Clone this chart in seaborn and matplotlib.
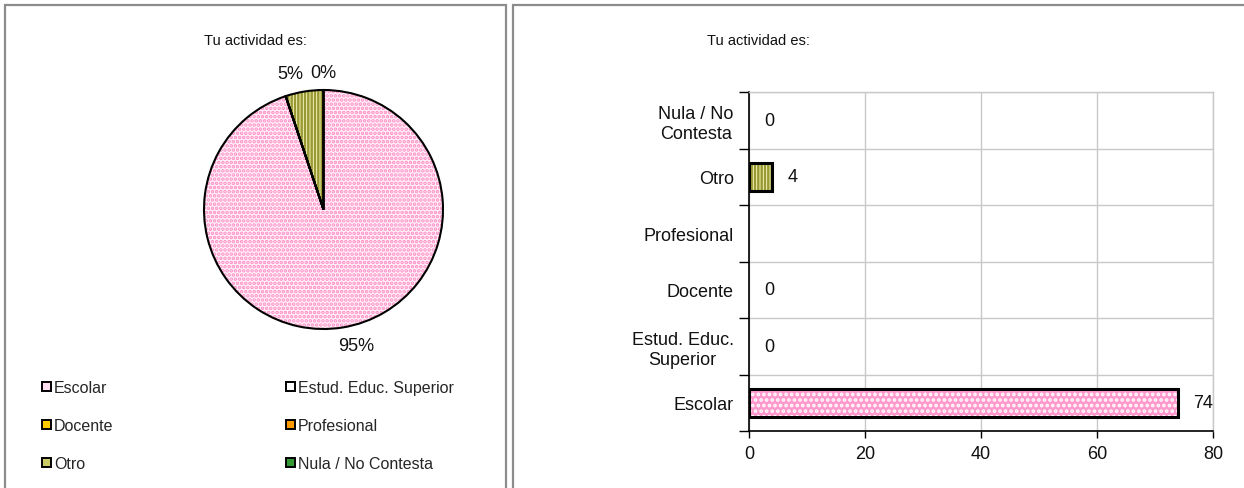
import numpy as np
import pandas as pd
import matplotlib
matplotlib.use("Agg")
import matplotlib.pyplot as plt
from matplotlib.patches import Patch, Rectangle
from matplotlib.ticker import FixedLocator
from matplotlib import font_manager
import seaborn as sns

# --- data -------------------------------------------------------------
categories = ["Escolar", "Estud. Educ. Superior", "Docente", "Profesional", "Otro", "Nula / No Contesta"]
axis_labels = ["Escolar", "Estud. Educ.\nSuperior", "Docente", "Profesional", "Otro", "Nula / No\nContesta"]
counts = [74, 0, 0, np.nan, 4, 0]          # Profesional has no answer recorded
chart_title = "Tu actividad es:"
x_ticks = [0, 20, 40, 60, 80]

# --- styles -----------------------------------------------------------
face = ["#ff99cc", "#ffffff", "#ffcc00", "#ff9900", "#ffffcc", "#339933"]
hatch_col = ["#ffffff", "#99ccff", "#ffff99", "#ffcc99", "#999933", "#ffffff"]
hatches = ["...", "..", "..", "..", "|||||", "++"]
pie_face = ["#fff2f9", "#ffffff", "#ffcc00", "#ff9900", "#ffffcc", "#339933"]
pie_hatch_col = ["#ff8cc6", "#99ccff", "#ffff99", "#ffcc99", "#999933", "#ffffff"]
pie_hatch = ["....", "..", "..", "..", "|||||", "++"]
legend_face = ["#ffe0f0", "#ffffff", "#ffcc00", "#ff9900", "#cccc66", "#339933"]

sns.set_theme(style="white")
plt.rcParams["font.family"] = ["Liberation Sans", "DejaVu Sans"]
plt.rcParams["hatch.linewidth"] = 1.8
FS = 13
FS_LEG = 11.5
TXT = "#111111"

installed = {f.name for f in font_manager.fontManager.ttflist}
title_family = ["Liberation Sans Narrow"] if "Liberation Sans Narrow" in installed else ["Liberation Sans"]
title_size = 12 if title_family[0].endswith("Narrow") else 10.5

W, H = 1244, 489
fig = plt.figure(figsize=(W / 100, H / 100), dpi=100)
fig.patch.set_facecolor("white")


def px_axes(left, top, width, height):
    return fig.add_axes([left / W, (H - top - height) / H, width / W, height / H])


# panel frames
for x0, x1 in [(5, 506), (513, 1262)]:
    fig.add_artist(Rectangle((x0 / W, -0.05), (x1 - x0) / W, (H - 6) / H + 0.05,
                             transform=fig.transFigure, fill=False,
                             edgecolor="#8c8c8c", linewidth=1.6, clip_on=False))

# --- pie --------------------------------------------------------------
vals = np.nan_to_num(np.array(counts, dtype=float))
total = vals.sum()
axp = px_axes(204, 91, 239, 239)
w_fill, _ = axp.pie(vals, startangle=90, counterclock=False, colors=pie_face,
                    wedgeprops=dict(linewidth=0))
for w, hc, h in zip(w_fill, pie_hatch_col, pie_hatch):
    w.set_edgecolor(hc)
    w.set_hatch(h)
axp.pie(vals, startangle=90, counterclock=False,
        wedgeprops=dict(fill=False, edgecolor="black", linewidth=1.5))
axp.set_xlim(-1, 1)
axp.set_ylim(-1, 1)
axp.axis("off")

# percentage labels outside the slices, nudged away from the vertical axis
cum = np.cumsum(vals) - vals / 2
for i, (v, c) in enumerate(zip(vals, cum)):
    if v == 0 and i != len(vals) - 1:
        continue
    ang = np.deg2rad(90 - 360 * c / total)
    r = 1.15
    cx, cy = np.cos(ang), np.sin(ang)
    nudge = 0 if abs(cx) < 0.05 else 8 * np.sign(cx)
    axp.annotate(f"{100 * v / total:.0f}%", xy=(r * cx, r * cy), xytext=(nudge, 0),
                 textcoords="offset points", ha="center", va="center",
                 fontsize=FS, color=TXT, annotation_clip=False)

fig.text(255 / W, 1 - 41 / H, chart_title, ha="center", va="center",
         fontsize=title_size, family=title_family, color=TXT)

# legend (two columns, row-major order)
handles = [Patch(facecolor=legend_face[i], edgecolor="black", linewidth=1.4, label=categories[i])
           for i in range(len(categories))]
kw = dict(frameon=False, fontsize=FS_LEG, handlelength=0.55, handleheight=0.55,
          handletextpad=0.2, labelspacing=1.45, borderpad=0, borderaxespad=0)
fig.legend(handles=handles[0::2], loc="upper left",
           bbox_to_anchor=(42 / W, 1 - 381 / H), **kw)
fig.legend(handles=handles[1::2], loc="upper left",
           bbox_to_anchor=(286 / W, 1 - 381 / H), **kw)

# --- horizontal bars --------------------------------------------------
df = pd.DataFrame({"cat": axis_labels, "n": np.nan_to_num(np.array(counts, dtype=float))})
order = axis_labels[::-1]
axb = px_axes(749, 93, 464, 339)
sns.barplot(data=df, y="cat", x="n", order=order, orient="h", width=0.5,
            ax=axb, color="white", errorbar=None)

lookup = dict(zip(axis_labels, range(len(axis_labels))))
for patch, lab in zip(axb.patches, order):
    i = lookup[lab]
    patch.set_facecolor(face[i])
    patch.set_edgecolor(hatch_col[i])
    patch.set_hatch(hatches[i])
    patch.set_linewidth(0)
    if counts[i] and not np.isnan(counts[i]):
        axb.add_patch(Rectangle((patch.get_x(), patch.get_y()), patch.get_width(),
                                patch.get_height(), fill=False, edgecolor="black",
                                linewidth=2.2, zorder=3))

bar_texts = []
for lab in order:
    v = counts[lookup[lab]]
    bar_texts.append("" if np.isnan(v) else f"{v:.0f}")
axb.bar_label(axb.containers[0], labels=bar_texts, padding=11, fontsize=FS, color=TXT)

axb.set_xlim(0, 80)
axb.set_ylim(len(order) - 0.5, -0.5)
axb.xaxis.set_major_locator(FixedLocator(x_ticks))
axb.set_xticklabels([str(t) for t in x_ticks])
axb.yaxis.set_minor_locator(FixedLocator(np.arange(-0.5, len(order), 1.0)))
axb.set_xlabel("")
axb.set_ylabel("")
axb.tick_params(axis="y", which="major", length=0, pad=11, labelsize=FS, labelcolor=TXT)
for t in axb.get_yticklabels():
    t.set_multialignment("center")
axb.tick_params(axis="y", which="minor", length=7, width=1, color="black", left=True, direction="out")
axb.tick_params(axis="x", which="major", length=5, width=1, color="black", bottom=True,
                direction="out", labelsize=FS, labelcolor=TXT, pad=5)
axb.grid(True, axis="x", which="major", color="#c8c8c8", linewidth=1)
axb.grid(True, axis="y", which="minor", color="#c8c8c8", linewidth=1)
axb.grid(False, axis="y", which="major")
axb.set_axisbelow(True)
for s in ["top", "right"]:
    axb.spines[s].set_color("#c8c8c8")
    axb.spines[s].set_linewidth(1)
for s in ["left", "bottom"]:
    axb.spines[s].set_color("black")
    axb.spines[s].set_linewidth(1.2)

fig.text(758 / W, 1 - 41 / H, chart_title, ha="center", va="center",
         fontsize=title_size, family=title_family, color=TXT)

fig.savefig("out.png", dpi=100, facecolor="white")
